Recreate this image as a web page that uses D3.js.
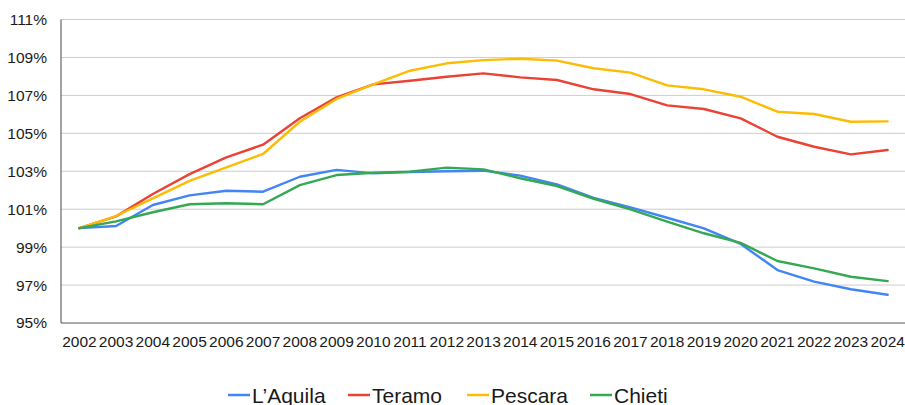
<!DOCTYPE html>
<html><head><meta charset="utf-8">
<script src="https://cdn.jsdelivr.net/npm/d3@7"></script>
<style>
html,body{margin:0;padding:0;background:#fff;}
svg{display:block;font-family:"Liberation Sans",Arial,sans-serif;}
</style></head>
<body>
<svg id="chart" width="905" height="405"></svg>
<script>
const years = ["2002","2003","2004","2005","2006","2007","2008","2009","2010","2011","2012","2013","2014","2015","2016","2017","2018","2019","2020","2021","2022","2023","2024"];
const seriesNames = ["L\u2019Aquila","Teramo","Pescara","Chieti"];
const colors = ["#4285F4","#EA4335","#FBBC04","#34A853"];
const lAquila = [100.0,100.11,101.22,101.73,101.97,101.92,102.71,103.07,102.89,102.96,103.0,103.03,102.77,102.31,101.6,101.1,100.55,99.99,99.17,97.79,97.18,96.78,96.49];
const teramo  = [100.0,100.62,101.8,102.85,103.73,104.4,105.79,106.9,107.58,107.77,107.98,108.16,107.95,107.81,107.32,107.07,106.47,106.28,105.79,104.82,104.29,103.89,104.12];
const pescara = [100.0,100.64,101.57,102.49,103.21,103.91,105.61,106.81,107.58,108.3,108.69,108.86,108.93,108.83,108.43,108.2,107.53,107.32,106.93,106.14,106.02,105.61,105.63];
const chieti  = [100.0,100.36,100.84,101.26,101.31,101.26,102.27,102.8,102.92,102.98,103.19,103.1,102.63,102.22,101.55,100.99,100.34,99.73,99.22,98.27,97.88,97.44,97.21];
const yTicks = [95,97,99,101,103,105,107,109,111];

(function(){
const allSeries = [lAquila, teramo, pescara, chieti];
const svg = d3.select("#chart");
const mLeft = 61, mRight = 906, mTop = 19.5, mBottom = 323;

const x = d3.scaleBand().domain(years).range([mLeft, mRight]).paddingInner(0).paddingOuter(0);
const y = d3.scaleLinear().domain([95,111]).range([mBottom, mTop]);

svg.append("g").selectAll("line").data(yTicks.filter(t=>t!==95)).join("line")
  .attr("x1", mLeft).attr("x2", 905)
  .attr("y1", d=>y(d)).attr("y2", d=>y(d))
  .attr("stroke", "#cccccc").attr("stroke-width", 1);

const yAxis = d3.axisLeft(y).tickValues(yTicks).tickSize(0).tickPadding(14).tickFormat(d=>d+"%");
const gy = svg.append("g").attr("transform", `translate(${mLeft},0)`).call(yAxis);
gy.select(".domain").remove();
gy.selectAll("text").attr("font-size", 15.5).attr("fill", "#1a1a1a").attr("font-family", "Liberation Sans, Arial, sans-serif");

const xAxis = d3.axisBottom(x).tickSize(0).tickPadding(13);
const gx = svg.append("g").attr("transform", `translate(0,${mBottom})`).call(xAxis);
gx.select(".domain").remove();
gx.selectAll("text").attr("font-size", 15.5).attr("fill", "#1a1a1a").attr("font-family", "Liberation Sans, Arial, sans-serif");

svg.append("line").attr("x1", mLeft).attr("x2", mLeft).attr("y1", mTop).attr("y2", mBottom).attr("stroke", "#666").attr("stroke-width", 1.2);
svg.append("line").attr("x1", mLeft).attr("x2", 905).attr("y1", mBottom).attr("y2", mBottom).attr("stroke", "#555").attr("stroke-width", 1.2);

const line = d3.line().x((d,i)=>x(years[i]) + x.bandwidth()/2).y(d=>y(d));
allSeries.forEach((s, k) => {
  svg.append("path").datum(s).attr("d", line)
    .attr("fill", "none").attr("stroke", colors[k]).attr("stroke-width", 2.4)
    .attr("stroke-linejoin", "round").attr("stroke-linecap", "round");
});

const legendX = [228, 348, 467, 590];
const lg = svg.append("g");
seriesNames.forEach((n, k) => {
  const g = lg.append("g").attr("transform", `translate(${legendX[k]},395)`);
  g.append("line").attr("x1", 0).attr("x2", 22).attr("y1", 0).attr("y2", 0).attr("stroke", colors[k]).attr("stroke-width", 2.5);
  g.append("text").attr("x", 24).attr("y", 7.5).attr("font-size", 21).attr("fill", "#1a1a1a").text(n);
});
})();
</script>
</body></html>
